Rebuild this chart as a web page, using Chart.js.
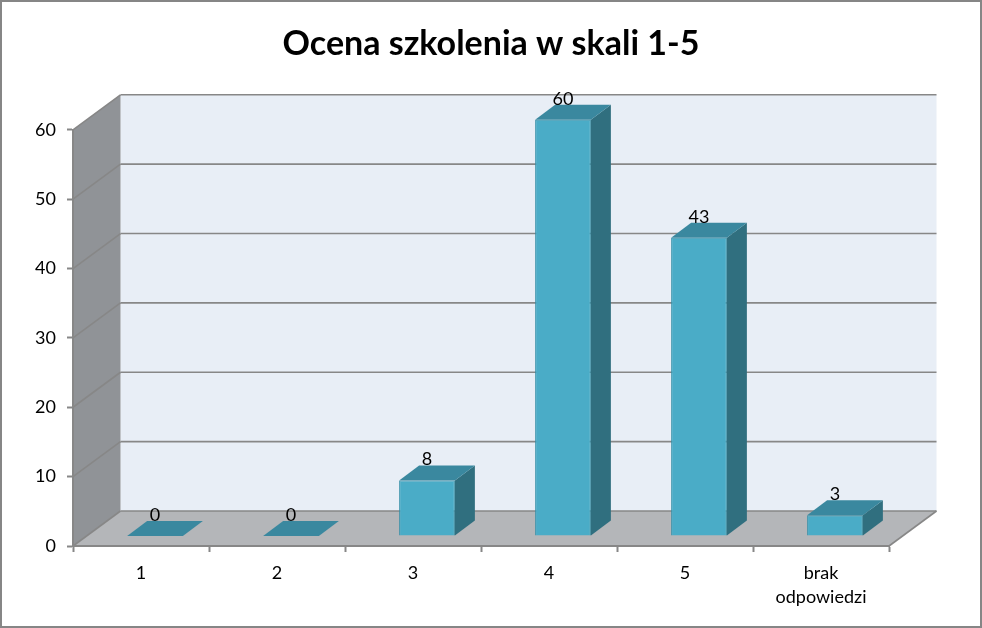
<!DOCTYPE html>
<html>
<head>
<meta charset="utf-8">
<script src="https://cdn.jsdelivr.net/npm/chart.js@4.4.1/dist/chart.umd.min.js"></script>
<style>
html, body { margin: 0; padding: 0; background: #fff; }
canvas { display: block; }
</style>
</head>
<body>
<canvas id="chartCanvas" width="982" height="628"></canvas>
<script>
// data
const TITLE = 'Ocena szkolenia w skali 1-5'
const categories = ['1', '2', '3', '4', '5', ['brak', 'odpowiedzi']]
const values = [0, 0, 8, 60, 43, 3]
const Y_MIN = 0, Y_MAX = 60, Y_STEP = 10

// fake 3d look
const DX = 47.5, DY = 35   // depth of floor / side wall
const BX = 14, BY = 10     // bars stand a bit behind the front edge
const SX = 20, SY = 15     // depth of one bar
const FONT = 'Lato'
const LINE = '#878787'

function poly(ctx, pts, fill) {
	ctx.beginPath()
	ctx.moveTo(pts[0][0], pts[0][1])
	for (let i = 1; i < pts.length; i++) ctx.lineTo(pts[i][0], pts[i][1])
	ctx.closePath()
	ctx.fillStyle = fill
	ctx.fill()
}

function line(ctx, x1, y1, x2, y2) {
	ctx.beginPath()
	ctx.moveTo(x1, y1)
	ctx.lineTo(x2, y2)
	ctx.stroke()
}

const walls = {
	id: 'walls',
	beforeDraw(chart) {
		const ctx = chart.ctx, a = chart.chartArea, y = chart.scales.y
		const y0 = y.getPixelForValue(Y_MIN), yt = y.getPixelForValue(Y_MAX)
		ctx.save()
		// outer frame
		ctx.strokeStyle = '#868686'
		ctx.lineWidth = 2
		ctx.strokeRect(1, 1, chart.width - 2, chart.height - 2)
		// back wall, side wall, floor
		ctx.fillStyle = '#e8eef6'
		ctx.fillRect(a.left + DX, yt - DY, a.right - a.left, y0 - yt)
		poly(ctx, [[a.left, yt], [a.left + DX, yt - DY], [a.left + DX, y0 - DY], [a.left, y0]], '#909397')
		poly(ctx, [[a.left, y0], [a.right, y0], [a.right + DX, y0 - DY], [a.left + DX, y0 - DY]], '#b4b6b9')
		// gridlines on both walls
		ctx.strokeStyle = LINE
		ctx.lineWidth = 1.6
		y.ticks.forEach(t => {
			const py = y.getPixelForValue(t.value)
			line(ctx, a.left, py, a.left + DX, py - DY)
			line(ctx, a.left + DX, py - DY, a.right + DX, py - DY)
		})
		line(ctx, a.right, y0, a.right + DX, y0 - DY)
		ctx.restore()
	},
	beforeDatasetsDraw(chart) {
		chart.ctx.save()
		chart.ctx.translate(BX, -BY)
	},
	afterDatasetsDraw(chart) {
		const ctx = chart.ctx
		const bars = chart.getDatasetMeta(0).data
		bars.forEach(el => {
			const l = el.x - el.width / 2, r = el.x + el.width / 2
			const top = el.y, base = el.base
			poly(ctx, [[r, top], [r + SX, top - SY], [r + SX, base - SY], [r, base]], '#306f7f')
			poly(ctx, [[l, top], [r, top], [r + SX, top - SY], [l + SX, top - SY]], '#3a889f')
		})
		ctx.restore()
		// value labels
		ctx.save()
		ctx.fillStyle = '#000'
		ctx.font = '18px ' + FONT
		ctx.textAlign = 'center'
		ctx.textBaseline = 'middle'
		bars.forEach((el, i) => {
			ctx.fillText(String(values[i]), el.x + BX, el.y - BY - 21)
		})
		ctx.restore()
	}
}

const config = {
	type: 'bar',
	data: {
		labels: categories,
		datasets: [{
			data: values,
			backgroundColor: '#4aacc7',
			borderColor: '#3590a8',
			borderWidth: 1,
			barPercentage: 0.41,
			categoryPercentage: 1,
			clip: false
		}]
	},
	options: {
		responsive: false,
		animation: false,
		devicePixelRatio: 1,
		layout: { padding: 0 },
		plugins: {
			legend: { display: false },
			tooltip: { enabled: false },
			title: {
				display: true,
				text: TITLE,
				color: '#000',
				font: { family: FONT, size: 34, weight: 'bold', lineHeight: 1.2 },
				padding: { top: 24, bottom: 65 }
			}
		},
		scales: {
			x: {
				grid: { offset: true, drawOnChartArea: false, tickLength: 6, tickColor: LINE, tickWidth: 2 },
				border: { color: LINE, width: 2 },
				ticks: { color: '#000', padding: 9, maxRotation: 0, font: { family: FONT, size: 18, lineHeight: 1.35 } },
				afterFit(scale) { scale.height = 82 }
			},
			y: {
				min: Y_MIN,
				max: Y_MAX,
				grid: { drawOnChartArea: false, tickLength: 6, tickColor: LINE, tickWidth: 2 },
				border: { color: LINE, width: 2 },
				ticks: { stepSize: Y_STEP, color: '#000', padding: 11, font: { family: FONT, size: 18 } },
				afterFit(scale) { scale.width = 73 }
			},
			// empty axis on the right, only keeps room for the floor's depth
			side: {
				position: 'right',
				grid: { display: false },
				border: { display: false },
				ticks: { display: false },
				afterFit(scale) { scale.width = 93 }
			}
		}
	},
	plugins: [walls]
}

window.onload = function() {
	const ctx = document.getElementById('chartCanvas')
	window.myChart = new Chart(ctx, config)
}
</script>
</body>
</html>
